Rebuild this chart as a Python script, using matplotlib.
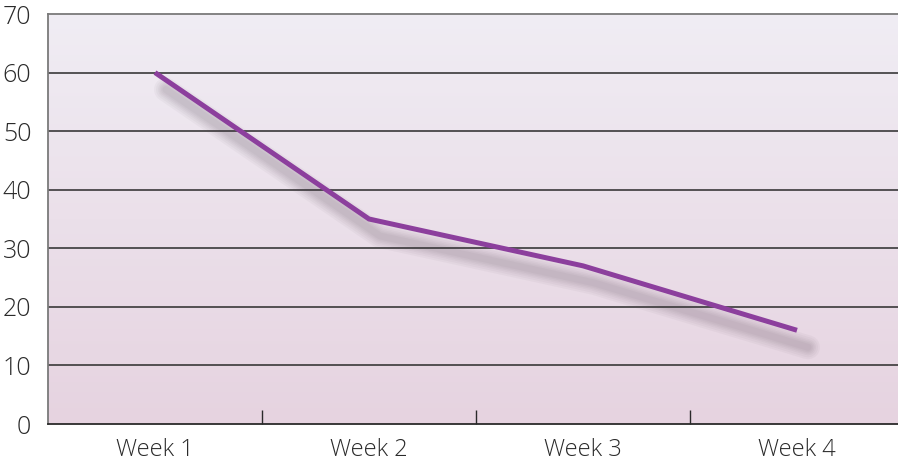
import numpy as np
import matplotlib
matplotlib.use("Agg")
import matplotlib.pyplot as plt
import matplotlib.transforms as mtransforms
from matplotlib.colors import LinearSegmentedColormap

# Data
weeks = ["Week 1", "Week 2", "Week 3", "Week 4"]
values = [60, 35, 27, 16]
y_ticks = [0, 10, 20, 30, 40, 50, 60, 70]

plt.rcParams["font.family"] = ["Open Sans", "DejaVu Sans"]
plt.rcParams["font.weight"] = "light"

fig = plt.figure(figsize=(8.98, 4.61), dpi=100)
W, H = 898, 461
left, right, top, bottom = 48, 904, 14, 424
ax = fig.add_axes([left / W, (H - bottom) / H, (right - left) / W, (bottom - top) / H])

ax.set_xlim(0, len(weeks))
ax.set_ylim(0, 70)

# Gradient background
grad = np.linspace(0, 1, 256).reshape(-1, 1)
cmap = LinearSegmentedColormap.from_list("bg", ["#e6d3e0", "#f0edf4"])
ax.imshow(grad, aspect="auto", cmap=cmap, origin="lower",
          extent=[0, len(weeks), 0, 70], zorder=0)

# Horizontal gridlines
for y in y_ticks[1:-1]:
    ax.axhline(y, color="#2a2a2a", lw=1.1, zorder=1)

x = np.arange(len(weeks)) + 0.5

# Soft drop shadow beneath the line
tr = mtransforms.offset_copy(ax.transData, fig=fig, x=11, y=-17, units="dots")
for lw in [24, 20, 16, 13, 10, 7]:
    ax.plot(x, values, color="#4a3848", lw=lw * 0.72, alpha=0.04, transform=tr,
            solid_capstyle="round", solid_joinstyle="round", zorder=2)

ax.plot(x, values, color="#8c3f9d", lw=3.6, solid_capstyle="butt",
        solid_joinstyle="miter", zorder=3)

# Axes styling
for s in ["left", "top"]:
    ax.spines[s].set_color("#7a7a7a")
    ax.spines[s].set_linewidth(1.3)
ax.spines["right"].set_visible(False)
ax.spines["bottom"].set_color("#2a2a2a")
ax.spines["bottom"].set_linewidth(1.3)

ax.set_yticks(y_ticks)
ax.set_yticklabels([str(v) for v in y_ticks])
ax.tick_params(axis="y", length=0, pad=12, labelsize=18, labelcolor="#2a2a2a")

ax.set_xticks([1, 2, 3])
ax.set_xticklabels([])
ax.tick_params(axis="x", which="major", direction="in", length=10, width=1, color="#2a2a2a")
ax.set_xticks(x, minor=True)
ax.set_xticklabels(weeks, minor=True)
ax.tick_params(axis="x", which="minor", length=0, pad=10, labelsize=17, labelcolor="#2a2a2a")

fig.savefig("out.png", dpi=100)
